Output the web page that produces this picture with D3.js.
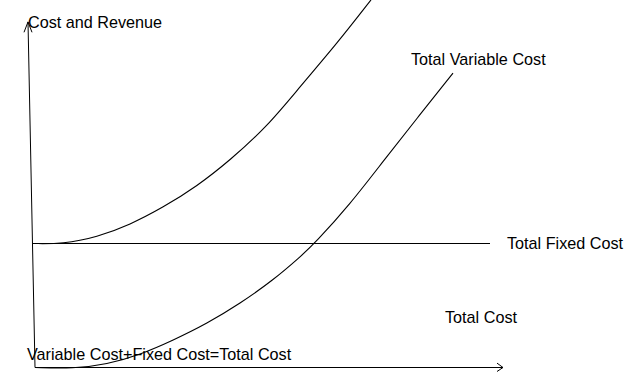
<!DOCTYPE html>
<html lang="en">
<head>
  <meta charset="UTF-8">
  <title>Cost and Revenue</title>
  <style>
    body { margin: 0; background: #fff; }
    svg text { font-family: "Liberation Sans", Arial, sans-serif; font-size: 16.2px; fill: #000; }
    .curve { fill: none; stroke: #000; stroke-width: 1.1; }
    .axis-line { fill: none; stroke: #000; stroke-width: 1; }
  </style>
  <script src="https://d3js.org/d3.v7.min.js"></script>
</head>
<body>
  <svg id="chart" width="637" height="388"></svg>
  <script>
    // quantity / cost values
    const tcQty  = [-0.5, 7, 15.5, 23.75, 32, 40.5, 48.75, 58, 66.25, 75.5, 84];
    const tcCost = [31, 30.9, 32.6, 35.7, 40.0, 45.3, 51.8, 60.2, 70.2, 81.0, 91.9];

    const tvcQty  = [0, 9.5, 18, 26.25, 34.5, 43, 51.25, 59.5, 66.25, 70, 78.75, 87, 95.5, 104.5];
    const tvcCost = [0, -0.3, 0.8, 3.2, 6.8, 11.0, 16.0, 21.8, 27.6, 31.1, 40.8, 51.5, 62.3, 73.6];

    const fixedCost = 31;
    const fixedQty = [-0.5, 113.75];

    const labels = ["Cost and Revenue", "Total Variable Cost", "Total Fixed Cost", "Total Cost",
                    "Variable Cost+Fixed Cost=Total Cost"];

    const svg = d3.select("#chart");

    const x = d3.scaleLinear().domain([0, 117]).range([35, 503]);
    const y = d3.scaleLinear().domain([0, 85]).range([367.5, 27.5]);

    const line = d3.line()
      .x(d => x(d[0]))
      .y(d => y(d[1]));

    const smooth = d3.line()
      .x(d => x(d[0]))
      .y(d => y(d[1]))
      .curve(d3.curveBasis);

    // axes (the vertical one leans a little, as in the drawing)
    const yTop = [-1.75, 86.4];
    svg.append("path").attr("class", "axis-line")
      .attr("d", line([[0, 0], yTop]));
    svg.append("path").attr("class", "axis-line")
      .attr("d", line([[yTop[0] - 1, yTop[1] - 2.6], yTop, [yTop[0] + 1, yTop[1] - 2.6]]));

    svg.append("path").attr("class", "axis-line")
      .attr("d", line([[0, 0], [117, 0]]));
    svg.append("path").attr("class", "axis-line")
      .attr("d", line([[115.5, 1.1], [117, 0], [115.5, -1]]));

    // total fixed cost
    svg.append("path").attr("class", "axis-line")
      .attr("d", line(fixedQty.map(q => [q, fixedCost])));

    // total cost & total variable cost
    svg.append("path").attr("class", "curve")
      .attr("d", smooth(d3.zip(tcQty, tcCost)));
    svg.append("path").attr("class", "curve")
      .attr("d", smooth(d3.zip(tvcQty, tvcCost)));

    // labels
    const labelPos = [[28, 28], [411, 65], [507, 248.5], [445, 323], [27, 359.5]];
    svg.selectAll("text.lbl")
      .data(labels)
      .enter().append("text")
      .attr("class", "lbl")
      .attr("x", (d, i) => labelPos[i][0])
      .attr("y", (d, i) => labelPos[i][1])
      .text(d => d);
  </script>
</body>
</html>
